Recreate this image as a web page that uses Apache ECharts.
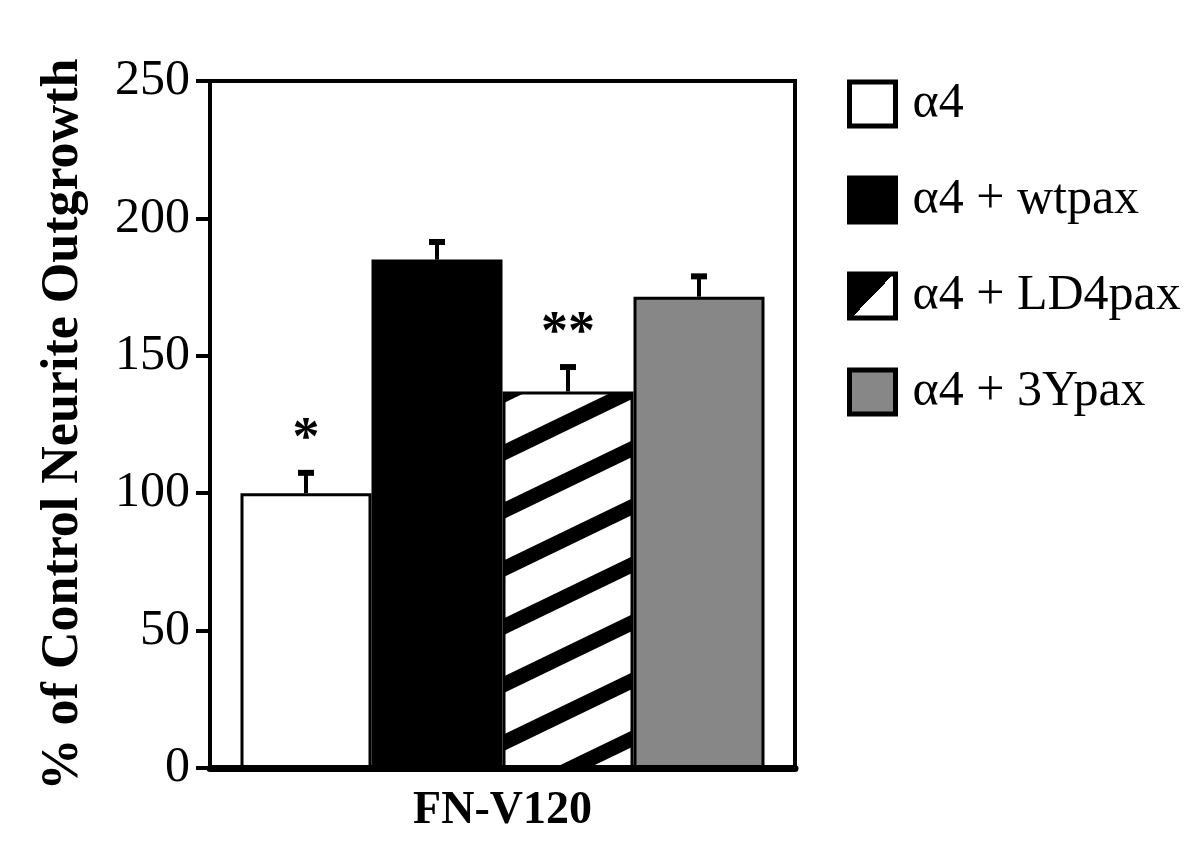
<!DOCTYPE html>
<html>
<head>
<meta charset="utf-8">
<script src="https://cdn.jsdelivr.net/npm/echarts@6/dist/echarts.min.js"></script>
<style>
    html, body { margin: 0; padding: 0; background: #fff; }
    #main { width: 1200px; height: 846px; }
</style>
</head>
<body>
<div id="main"></div>
<script>
// 数据
var categories = ['FN-V120'];
var groups = ['\u03b14', '\u03b14 + wtpax', '\u03b14 + LD4pax', '\u03b14 + 3Ypax'];
var means = [100, 185, 137, 171.5];
var errTops = [108.5, 192.5, 147, 180];
var marks = ['*', '', '**', ''];

var BAR_W = 131;
var SERIF = 'Liberation Serif';

// 斜线填充 (整张画布大小, 避免接缝)
function stripePattern() {
    var w = 1200, h = 846;
    var period = 58, slope = 0.483;
    var c = document.createElement('canvas');
    c.width = w;
    c.height = h;
    var ctx = c.getContext('2d');
    ctx.fillStyle = '#fff';
    ctx.fillRect(0, 0, w, h);
    ctx.strokeStyle = '#000';
    ctx.lineWidth = 15;
    for (var y0 = 0; y0 < h + w * slope + period; y0 += period) {
        ctx.beginPath();
        ctx.moveTo(0, y0);
        ctx.lineTo(w, y0 - w * slope);
        ctx.stroke();
    }
    return c;
}

var fills = ['#ffffff', '#000000', {image: stripePattern(), repeat: 'repeat'}, '#878787'];

var barSeries = groups.map(function (name, i) {
    return {
        name: name,
        type: 'bar',
        barWidth: BAR_W,
        barGap: '0%',
        itemStyle: {
            color: fills[i],
            borderColor: '#000',
            borderWidth: 3
        },
        data: [means[i]]
    };
});

var errData = groups.map(function (name, i) {
    return [0, means[i], errTops[i], i];
});

var errSeries = {
    type: 'custom',
    silent: true,
    z: 5,
    data: errData,
    encode: {x: 0, y: [1, 2]},
    renderItem: function (params, api) {
        var idx = api.value(3);
        var base = api.coord([api.value(0), api.value(1)]);
        var top = api.coord([api.value(0), api.value(2)]);
        var x = top[0] + (idx - 1.5) * BAR_W;
        var children = [
            {
                type: 'line',
                shape: {x1: x, y1: base[1], x2: x, y2: top[1] + 3},
                style: {stroke: '#000', lineWidth: 4}
            },
            {
                type: 'rect',
                shape: {x: x - 8, y: top[1], width: 16, height: 6},
                style: {fill: '#000'}
            }
        ];
        if (marks[idx]) {
            children.push({
                type: 'text',
                style: {
                    x: x,
                    y: top[1] - 30,
                    text: marks[idx],
                    fill: '#000',
                    font: 'bold 54px "Liberation Serif"',
                    align: 'center',
                    verticalAlign: 'middle'
                }
            });
        }
        return {type: 'group', children: children};
    }
};

var legendData = groups.map(function (name, i) {
    if (i === 2) {
        return {
            name: name,
            itemStyle: {
                color: new echarts.graphic.LinearGradient(0, 0, 1, 1, [
                    {offset: 0, color: '#000'},
                    {offset: 0.5, color: '#000'},
                    {offset: 0.5, color: '#fff'},
                    {offset: 1, color: '#fff'}
                ])
            }
        };
    }
    return {name: name};
});

var chart = echarts.init(document.getElementById('main'));
chart.setOption(
    option = {
        backgroundColor: '#fff',
        animation: false,
        grid: {
            left: 210,
            right: 405,
            top: 81,
            bottom: 78,
            show: true,
            borderColor: '#000',
            borderWidth: 4
        },
        legend: {
            orient: 'vertical',
            left: 842,
            top: 74,
            itemWidth: 46,
            itemHeight: 44,
            itemGap: 46,
            icon: 'rect',
            selectedMode: false,
            itemStyle: {
                borderColor: '#000',
                borderWidth: 5
            },
            textStyle: {
                fontFamily: SERIF,
                fontSize: 50,
                color: '#000',
                lineHeight: 44,
                padding: [0, 0, 0, 12]
            },
            data: legendData
        },
        xAxis: {
            type: 'category',
            data: categories,
            axisLine: {lineStyle: {color: '#000', width: 7}},
            axisTick: {show: false},
            axisLabel: {
                margin: 20,
                color: '#000',
                fontFamily: SERIF,
                fontWeight: 'bold',
                fontSize: 46
            }
        },
        yAxis: {
            type: 'value',
            min: 0,
            max: 250,
            interval: 50,
            name: '% of Control Neurite Outgrowth',
            nameLocation: 'middle',
            nameGap: 120,
            nameTextStyle: {
                fontFamily: SERIF,
                fontWeight: 'bold',
                fontSize: 52,
                color: '#000'
            },
            splitLine: {show: false},
            axisLine: {show: true, lineStyle: {color: '#000', width: 4}},
            axisTick: {show: true, length: 14, lineStyle: {color: '#000', width: 4}},
            axisLabel: {
                margin: 20,
                color: '#000',
                fontFamily: SERIF,
                fontSize: 50
            }
        },
        series: barSeries.concat([errSeries])
    }
);
</script>
</body>
</html>
